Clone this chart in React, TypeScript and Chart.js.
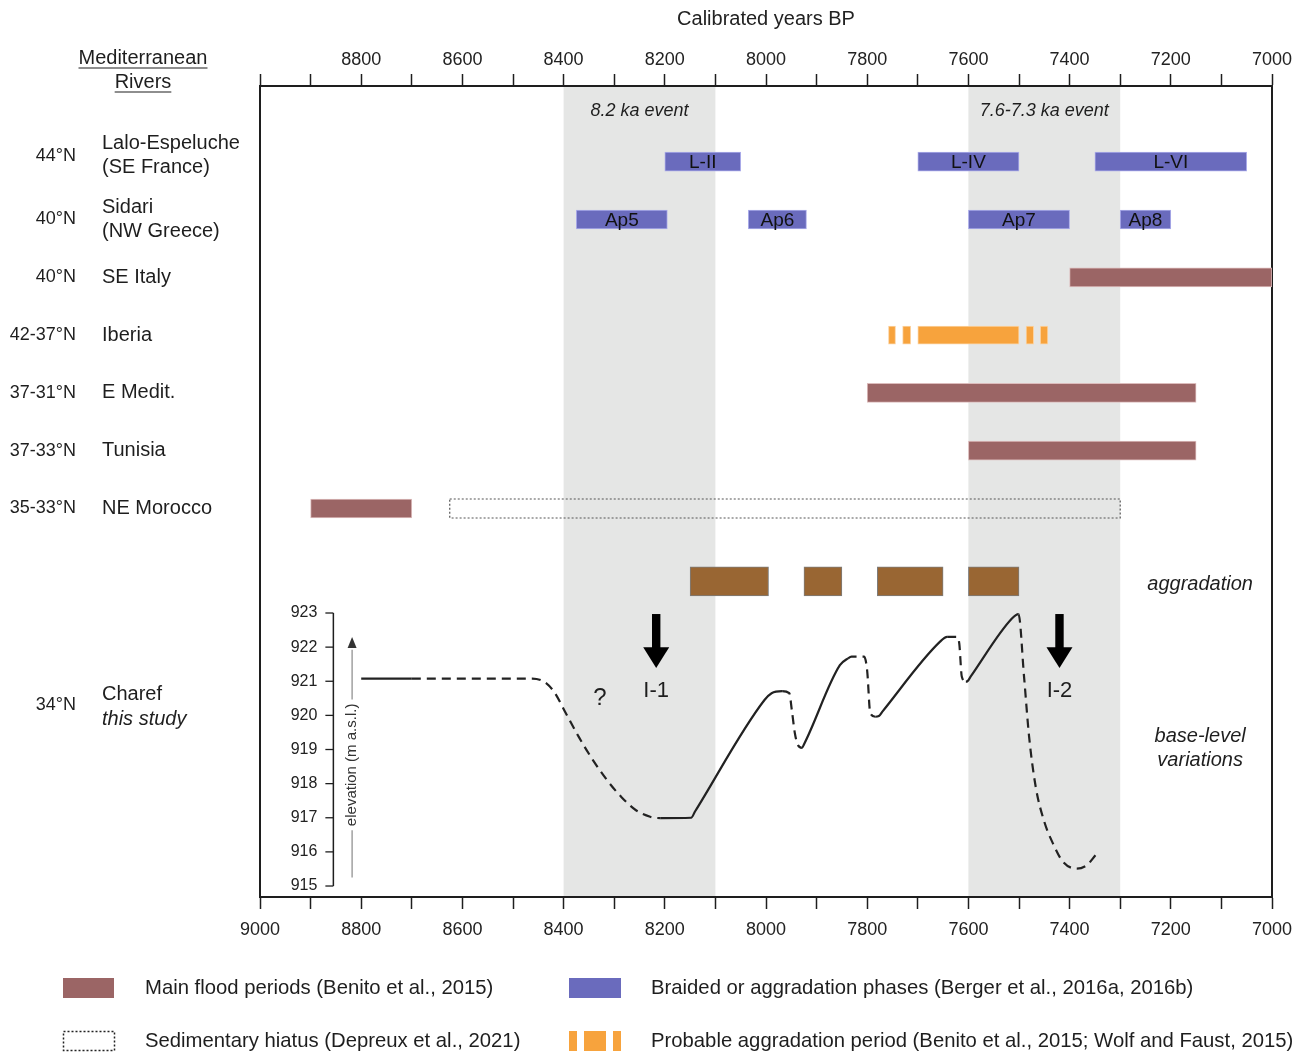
import React, { useEffect, useRef } from 'react';
import { Chart, registerables } from 'chart.js';

Chart.register(...registerables);

const FONT = "'Liberation Sans', Arial, Helvetica, sans-serif";

// ---------- time axis ----------
const yearMin = 7000;
const yearMax = 9000;
const yearStep = 100;
const yearLabelStep = 200;

// ---------- rows (Mediterranean rivers) ----------
const rowLatitudes = ['44°N', '40°N', '40°N', '42-37°N', '37-31°N', '37-33°N', '35-33°N'];
const rowNames = [
  ['Lalo-Espeluche', '(SE France)'],
  ['Sidari', '(NW Greece)'],
  ['SE Italy'],
  ['Iberia'],
  ['E Medit.'],
  ['Tunisia'],
  ['NE Morocco'],
];
const charefLatitude = '34°N';
const charefNames = ['Charef', 'this study'];
const aggradationRow = 7.26;
const charefRow = 9.4;

// ---------- braided / aggradation phases (Berger et al.) ----------
const braidedStart = [8200, 7700, 7350, 8375, 8035, 7600, 7300];
const braidedEnd = [8050, 7500, 7050, 8195, 7920, 7400, 7200];
const braidedRow = [0, 0, 0, 1, 1, 1, 1];
const braidedLabels = ['L-II', 'L-IV', 'L-VI', 'Ap5', 'Ap6', 'Ap7', 'Ap8'];

// ---------- main flood periods (Benito et al.) ----------
const floodStart = [7400, 7800, 7600, 8900];
const floodEnd = [7000, 7150, 7150, 8700];
const floodRow = [2, 4, 5, 6];

// ---------- probable aggradation period, Iberia ----------
const iberiaStart = [7758, 7730, 7700, 7486, 7458];
const iberiaEnd = [7744, 7714, 7500, 7471, 7443];
const iberiaRow = 3;

// ---------- sedimentary hiatus, NE Morocco ----------
const hiatusStart = 8625;
const hiatusEnd = 7300;
const hiatusRow = 6;
const hiatusHalfHeight = 0.164;

// ---------- Charef aggradation ----------
const aggStart = [8150, 7925, 7780, 7600];
const aggEnd = [7995, 7850, 7650, 7500];

// ---------- climatic events ----------
const eventStart = [8400, 7600];
const eventEnd = [8100, 7300];
const eventLabels = ['8.2 ka event', '7.6-7.3 ka event'];

// ---------- Charef base-level (elevation, m a.s.l.) ----------
const elevTicks = [915, 916, 917, 918, 919, 920, 921, 922, 923];
const elevYears = [
  8800, 8700, 8462, 8434, 8417, 8399, 8370, 8342, 8314, 8286, 8257, 8229, 8208,
  8148, 8140, 8003, 7989, 7968, 7954, 7949, 7943, 7937, 7929,
  7925, 7854, 7838, 7831, 7806, 7800, 7794, 7784,
  7777, 7770, 7656, 7642, 7622, 7618, 7613, 7605,
  7602, 7595, 7514, 7501, 7490, 7480, 7467, 7451, 7433, 7413, 7386, 7366, 7349,
];
const elevValues = [
  921.08, 921.08, 921.08, 920.94, 920.65, 920.16, 919.37, 918.69, 918.1, 917.61, 917.22, 917.03, 916.99,
  917.0, 917.19, 920.45, 920.65, 920.71, 920.65, 920.16, 919.48, 919.13, 919.05,
  919.15, 921.47, 921.67, 921.72, 921.72, 921.3, 920.07, 919.96,
  919.98, 920.11, 922.16, 922.3, 922.3, 922.1, 921.13, 920.99,
  921.0, 921.15, 922.84, 922.97, 921.13, 919.37, 917.91, 916.93, 916.25, 915.71, 915.51, 915.61, 915.9,
];
// true = the segment starting at this point is dashed (uncertain)
const elevDashed = [
  false, true, true, true, true, true, true, true, true, true, true, true, false,
  false, false, false, false, true, true, true, true, true, false,
  false, false, true, true, true, true, true, false,
  false, false, false, true, true, true, true, false,
  false, false, false, true, true, true, true, true, true, true, true, true, false,
];

// ---------- incisions ----------
const incisionYears = [8217, 7420];
const incisionLabels = ['I-1', 'I-2'];

// ---------- legend ----------
const legendFlood = 'Main flood periods (Benito et al., 2015)';
const legendBraided = 'Braided or aggradation phases (Berger et al., 2016a, 2016b)';
const legendHiatus = 'Sedimentary hiatus (Depreux et al., 2021)';
const legendIberia = 'Probable aggradation period (Benito et al., 2015; Wolf and Faust, 2015)';

// ---------- colours ----------
const FLOOD = '#9b6565';
const FLOOD_EDGE = '#dcbcbc';
const BLUE = '#6a6bbd';
const BLUE_EDGE = '#abacea';
const ORANGE = '#f7a33d';
const ORANGE_EDGE = '#fbd3a3';
const AGG = '#996633';
const AGG_EDGE = '#7d7d7d';
const BAND = '#e5e6e5';
const INK = '#1e1e1e';

const floatBars = (starts: number[], ends: number[], rows: number[] | number) =>
  starts.map((s, i) => ({ x: [s, ends[i]], y: Array.isArray(rows) ? rows[i] : rows }));

function text(ctx: CanvasRenderingContext2D, s: string, x: number, y: number, size: number,
  align: CanvasTextAlign = 'left', italic = false, color = INK) {
  ctx.font = `${italic ? 'italic ' : ''}${size}px ${FONT}`;
  ctx.fillStyle = color;
  ctx.textAlign = align;
  ctx.textBaseline = 'middle';
  ctx.fillText(s, x, y);
}

function underlined(ctx: CanvasRenderingContext2D, s: string, cx: number, cy: number, size: number) {
  text(ctx, s, cx, cy, size, 'center');
  const w = ctx.measureText(s).width;
  ctx.strokeStyle = INK;
  ctx.lineWidth = 1.2;
  ctx.beginPath();
  ctx.moveTo(cx - w / 2, cy + size * 0.5);
  ctx.lineTo(cx + w / 2, cy + size * 0.5);
  ctx.stroke();
}

const annotationPlugin = {
  id: 'annotations',
  beforeDraw(chart: any) {
    const { ctx, chartArea, scales } = chart;
    const x = scales.x;
    ctx.save();
    ctx.fillStyle = BAND;
    eventStart.forEach((s, i) => {
      const a = x.getPixelForValue(s);
      const b = x.getPixelForValue(eventEnd[i]);
      ctx.fillRect(Math.min(a, b), chartArea.top, Math.abs(b - a), chartArea.bottom - chartArea.top);
    });
    ctx.restore();
  },
  afterDraw(chart: any) {
    const { ctx, chartArea, scales } = chart;
    const x = scales.x;
    const yr = scales.yRow;
    const ye = scales.yElev;
    ctx.save();

    // header of the left column
    underlined(ctx, 'Mediterranean', 143, 58, 20);
    underlined(ctx, 'Rivers', 143, 82, 20);

    // row labels
    rowLatitudes.forEach((lat, i) => {
      const cy = yr.getPixelForValue(i) + (i === 0 ? -6 : 0);
      text(ctx, lat, 76, cy, 18, 'right');
      const names = rowNames[i];
      if (names.length === 1) text(ctx, names[0], 102, cy, 20);
      else {
        text(ctx, names[0], 102, cy - 12, 20);
        text(ctx, names[1], 102, cy + 12, 20);
      }
    });
    const cc = yr.getPixelForValue(charefRow);
    text(ctx, charefLatitude, 76, cc, 18, 'right');
    text(ctx, charefNames[0], 102, cc - 11, 20);
    text(ctx, charefNames[1], 102, cc + 14, 20, 'left', true);

    // event labels
    eventLabels.forEach((lab, i) => {
      text(ctx, lab, x.getPixelForValue((eventStart[i] + eventEnd[i]) / 2), chartArea.top + 25, 18, 'center', true);
    });

    // bar labels
    braidedLabels.forEach((lab, i) => {
      text(ctx, lab, x.getPixelForValue((braidedStart[i] + braidedEnd[i]) / 2),
        yr.getPixelForValue(braidedRow[i]) + 1, 19, 'center', false, '#111');
    });

    // right-hand labels
    const rx = x.getPixelForValue(7142);
    text(ctx, 'aggradation', rx, yr.getPixelForValue(aggradationRow) + 3, 20, 'center', true);
    text(ctx, 'base-level', rx, ye.getPixelForValue(919.39), 20, 'center', true);
    text(ctx, 'variations', rx, ye.getPixelForValue(918.69), 20, 'center', true);

    // question mark
    text(ctx, '?', x.getPixelForValue(8328), ye.getPixelForValue(920.5), 24, 'center');

    // incision arrows
    incisionYears.forEach((yrv, i) => {
      const cx = x.getPixelForValue(yrv);
      const top = ye.getPixelForValue(922.97);
      const mid = ye.getPixelForValue(922.0);
      const tip = ye.getPixelForValue(921.39);
      ctx.fillStyle = '#000';
      ctx.fillRect(cx - 4.2, top, 8.4, mid - top + 1);
      ctx.beginPath();
      ctx.moveTo(cx - 13, mid);
      ctx.lineTo(cx + 13, mid);
      ctx.lineTo(cx, tip);
      ctx.closePath();
      ctx.fill();
      text(ctx, incisionLabels[i], cx, ye.getPixelForValue(920.71), 22, 'center');
    });

    // elevation axis
    const ax = x.getPixelForValue(8855);
    const yTop = ye.getPixelForValue(elevTicks[elevTicks.length - 1]);
    const yBot = ye.getPixelForValue(elevTicks[0]);
    ctx.strokeStyle = INK;
    ctx.lineWidth = 1.5;
    ctx.beginPath();
    ctx.moveTo(ax, yTop);
    ctx.lineTo(ax, yBot);
    ctx.stroke();
    elevTicks.forEach((t) => {
      const py = ye.getPixelForValue(t);
      ctx.strokeStyle = INK;
      ctx.lineWidth = 1.3;
      ctx.beginPath();
      ctx.moveTo(ax - 8, py);
      ctx.lineTo(ax, py);
      ctx.stroke();
      text(ctx, String(t), ax - 16, py, 16, 'right', false, '#222');
    });

    // elevation caption with arrow
    const lx = x.getPixelForValue(8818);
    const lc = ye.getPixelForValue(918.55);
    const cap = 'elevation (m a.s.l.)';
    ctx.font = `15px ${FONT}`;
    const half = ctx.measureText(cap).width / 2;
    ctx.save();
    ctx.translate(lx, lc);
    ctx.rotate(-Math.PI / 2);
    text(ctx, cap, 0, 0, 15, 'center', false, '#333');
    ctx.restore();
    ctx.strokeStyle = '#8a8a8a';
    ctx.lineWidth = 1.2;
    ctx.beginPath();
    ctx.moveTo(lx, ye.getPixelForValue(915.25));
    ctx.lineTo(lx, lc + half + 4);
    ctx.moveTo(lx, lc - half - 4);
    ctx.lineTo(lx, ye.getPixelForValue(921.92));
    ctx.stroke();
    const at = ye.getPixelForValue(922.3);
    ctx.fillStyle = '#333';
    ctx.beginPath();
    ctx.moveTo(lx, at);
    ctx.lineTo(lx - 4.5, at + 11);
    ctx.lineTo(lx + 4.5, at + 11);
    ctx.closePath();
    ctx.fill();

    // legend
    const r1 = 988;
    const r2 = 1041;
    const lf = 20.3;
    ctx.fillStyle = FLOOD;
    ctx.fillRect(63, r1 - 10, 51, 20);
    text(ctx, legendFlood, 145, r1, lf);
    ctx.fillStyle = BLUE;
    ctx.fillRect(569, r1 - 10, 52, 20);
    text(ctx, legendBraided, 651, r1, lf);
    ctx.strokeStyle = '#222';
    ctx.lineWidth = 1.5;
    ctx.setLineDash([2, 2]);
    ctx.strokeRect(63.5, r2 - 9.5, 51, 19);
    ctx.setLineDash([]);
    text(ctx, legendHiatus, 145, r2, lf);
    ctx.fillStyle = ORANGE;
    ctx.fillRect(569, r2 - 10, 8, 20);
    ctx.fillRect(584, r2 - 10, 22, 20);
    ctx.fillRect(613, r2 - 10, 8, 20);
    text(ctx, legendIberia, 651, r2, lf);

    ctx.restore();
  },
};

export default function App() {
  const ref = useRef<HTMLCanvasElement>(null);

  useEffect(() => {
    const canvas = ref.current;
    if (!canvas) return;
    Chart.defaults.font.family = FONT;

    const tickGrid = {
      display: true,
      offset: false,
      drawOnChartArea: false,
      drawTicks: true,
      tickLength: 12,
      tickColor: INK,
      tickWidth: 1.5,
    };
    const frameBorder = { display: true, color: INK, width: 2 };

    const chart = new Chart(canvas, {
      type: 'bar',
      data: {
        datasets: [
          {
            type: 'bar',
            label: 'braided',
            indexAxis: 'y',
            xAxisID: 'x',
            yAxisID: 'yRow',
            data: floatBars(braidedStart, braidedEnd, braidedRow),
            backgroundColor: BLUE,
            borderColor: BLUE_EDGE,
            borderWidth: 1,
            borderSkipped: false,
            barThickness: 19,
            grouped: false,
          },
          {
            type: 'bar',
            label: 'flood',
            indexAxis: 'y',
            xAxisID: 'x',
            yAxisID: 'yRow',
            data: floatBars(floodStart, floodEnd, floodRow),
            backgroundColor: FLOOD,
            borderColor: FLOOD_EDGE,
            borderWidth: 1,
            borderSkipped: false,
            barThickness: 19,
            grouped: false,
          },
          {
            type: 'bar',
            label: 'iberia',
            indexAxis: 'y',
            xAxisID: 'x',
            yAxisID: 'yRow',
            data: floatBars(iberiaStart, iberiaEnd, iberiaRow),
            backgroundColor: ORANGE,
            borderColor: ORANGE_EDGE,
            borderWidth: 1,
            borderSkipped: false,
            barThickness: 18,
            grouped: false,
          },
          {
            type: 'bar',
            label: 'aggradation',
            indexAxis: 'y',
            xAxisID: 'x',
            yAxisID: 'yRow',
            data: floatBars(aggStart, aggEnd, aggradationRow),
            backgroundColor: AGG,
            borderColor: AGG_EDGE,
            borderWidth: 1,
            borderSkipped: false,
            barThickness: 29,
            grouped: false,
          },
          {
            type: 'line',
            label: 'hiatus',
            xAxisID: 'x',
            yAxisID: 'yRow',
            data: [
              { x: hiatusStart, y: hiatusRow - hiatusHalfHeight },
              { x: hiatusEnd, y: hiatusRow - hiatusHalfHeight },
              { x: hiatusEnd, y: hiatusRow + hiatusHalfHeight },
              { x: hiatusStart, y: hiatusRow + hiatusHalfHeight },
              { x: hiatusStart, y: hiatusRow - hiatusHalfHeight },
            ],
            borderColor: '#555',
            borderWidth: 1.2,
            borderDash: [2, 2],
            pointRadius: 0,
            fill: false,
            tension: 0,
          },
          {
            type: 'line',
            label: 'base level',
            xAxisID: 'x',
            yAxisID: 'yElev',
            data: elevYears.map((yv, i) => ({ x: yv, y: elevValues[i] })),
            borderColor: '#222',
            borderWidth: 2.2,
            borderDash: [],
            pointRadius: 0,
            fill: false,
            cubicInterpolationMode: 'monotone',
            segment: {
              borderDash: (c: any) => (elevDashed[c.p0DataIndex] ? [9, 6] : []),
            },
          },
        ] as any,
      },
      options: {
        responsive: false,
        animation: false,
        devicePixelRatio: 1,
        events: [],
        layout: { padding: { left: 260, right: 42, top: 0, bottom: 0 } },
        plugins: { legend: { display: false }, tooltip: { enabled: false }, title: { display: false } },
        scales: {
          x: {
            type: 'linear',
            position: 'bottom',
            min: yearMin,
            max: yearMax,
            reverse: true,
            offset: false,
            grid: tickGrid,
            border: frameBorder,
            ticks: {
              stepSize: yearStep,
              autoSkip: false,
              maxRotation: 0,
              padding: 10,
              color: '#222',
              font: { size: 18, family: FONT },
              callback: (v: any) => (Number(v) % yearLabelStep === 0 ? String(v) : ''),
            },
            afterFit: (s: any) => { s.height = 157; },
          },
          x2: {
            type: 'linear',
            axis: 'x',
            position: 'top',
            min: yearMin,
            max: yearMax,
            reverse: true,
            offset: false,
            grid: { ...tickGrid },
            border: frameBorder,
            title: {
              display: true,
              text: 'Calibrated years BP',
              color: '#222',
              font: { size: 20, family: FONT },
              padding: { top: 7, bottom: 0 },
            },
            ticks: {
              stepSize: yearStep,
              autoSkip: false,
              maxRotation: 0,
              padding: 3,
              color: '#222',
              font: { size: 18, family: FONT },
              callback: (v: any) => (Number(v) % yearLabelStep === 0 && Number(v) !== yearMax ? String(v) : ''),
            },
            afterFit: (s: any) => { s.height = 86; },
          },
          yRow: {
            type: 'linear',
            axis: 'y',
            position: 'left',
            min: -1.3097,
            max: 12.7215,
            reverse: true,
            offset: false,
            grid: { display: false, drawTicks: false, offset: false },
            border: frameBorder,
            ticks: { display: false },
            afterFit: (s: any) => { s.width = 0; },
          },
          yRight: {
            type: 'linear',
            axis: 'y',
            position: 'right',
            min: 0,
            max: 1,
            offset: false,
            grid: { display: false, drawTicks: false, offset: false },
            border: frameBorder,
            ticks: { display: false },
            afterFit: (s: any) => { s.width = 0; },
          },
          yElev: {
            type: 'linear',
            axis: 'y',
            position: 'left',
            display: false,
            min: 914.678,
            max: 938.443,
            offset: false,
          },
        },
      } as any,
      plugins: [annotationPlugin],
    });

    return () => chart.destroy();
  }, []);

  return (
    <div style={{ position: 'absolute', left: 0, top: 0, width: 1314, height: 1054, background: '#fff' }}>
      <canvas ref={ref} width={1314} height={1054} style={{ display: 'block', width: 1314, height: 1054 }} />
    </div>
  );
}
